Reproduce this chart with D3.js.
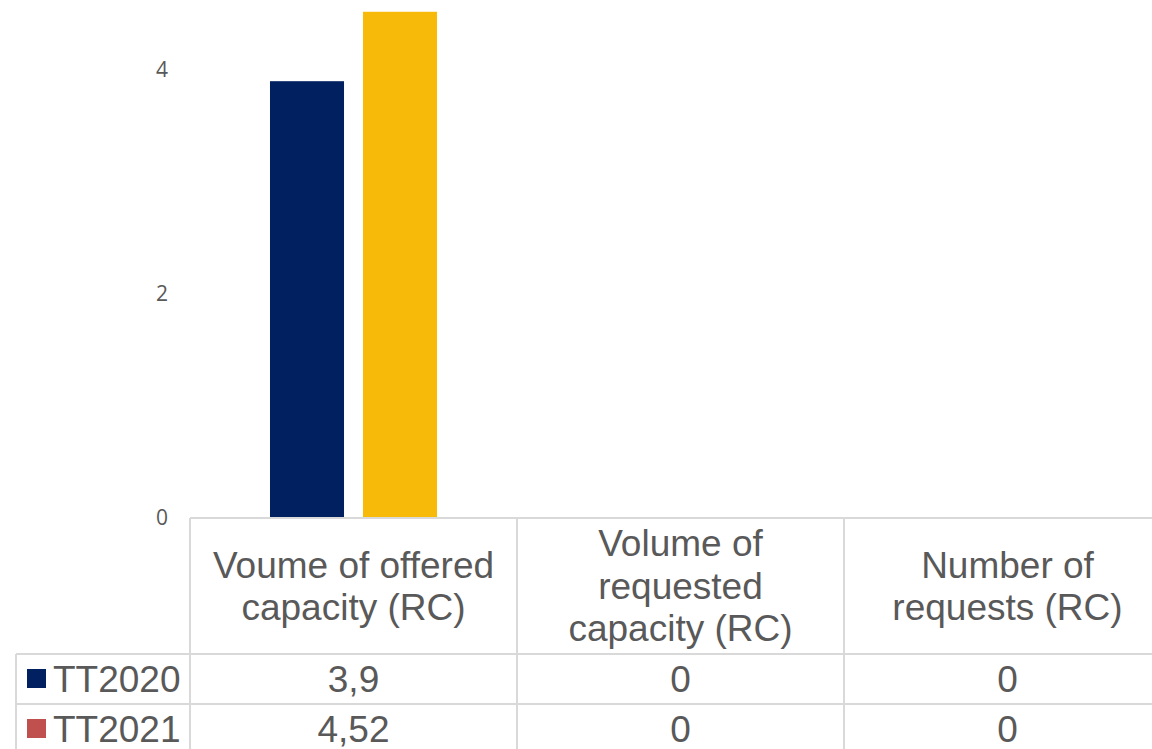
<!DOCTYPE html>
<html>
<head>
<meta charset="utf-8">
<script src="https://cdn.jsdelivr.net/npm/d3@7"></script>
<style>
  body { margin: 0; background: #fff; }
  svg { display: block; }
</style>
</head>
<body>
<div id="chart"></div>
<script>
var categories = ["Voume of offered capacity (RC)", "Volume of requested capacity (RC)", "Number of requests (RC)"];
var categoryLines = [["Voume of offered", "capacity (RC)"], ["Volume of", "requested", "capacity (RC)"], ["Number of", "requests (RC)"]];
var seriesNames = ["TT2020", "TT2021"];
var tt2020 = [3.9, 0, 0];
var tt2021 = [4.52, 0, 0];
var tt2020Labels = ["3,9", "0", "0"];
var tt2021Labels = ["4,52", "0", "0"];
var yTicks = [0, 2, 4];

var barColors = ["#002060", "#F8BA09"];
var legendColors = ["#002060", "#C0504D"];
var textColor = "#595959";
var lineColor = "#D9D9D9";

var width = 1152, height = 749;
var base = 518, headH = 136, rowH = 50;
var tableLeft = 190, legendLeft = 16;

var svg = d3.select("#chart").append("svg")
  .attr("width", width)
  .attr("height", height);

var x = d3.scaleBand()
  .domain(categories)
  .range([tableLeft, tableLeft + 327 * 3]);

var xs = d3.scaleBand()
  .domain(seriesNames)
  .range([0, x.bandwidth()])
  .paddingInner(0.204)
  .paddingOuter(0.86);

var y = d3.scaleLinear()
  .domain([0, 5])
  .range([base, base - 112 * 5]);

// y ticks, no axis line
var yAxis = d3.axisLeft(y).tickValues(yTicks).tickSize(0).tickPadding(0).tickFormat(d3.format("d"));
var ga = svg.append("g").attr("transform", "translate(168,0)").call(yAxis);
ga.select(".domain").remove();
ga.selectAll("text")
  .attr("fill", textColor)
  .style("font-family", "'Open Sans', sans-serif")
  .style("font-size", "21px");

var series = [tt2020, tt2021];

// bars
var g = svg.append("g");
series.forEach(function(vals, si) {
  g.selectAll(".bar" + si)
    .data(vals)
    .enter()
    .append("rect")
    .attr("x", (d, i) => x(categories[i]) + xs(seriesNames[si]))
    .attr("width", xs.bandwidth())
    .attr("y", d => y(d))
    .attr("height", d => base - y(d))
    .attr("fill", barColors[si]);
});

// data table grid
var grid = svg.append("g")
  .attr("stroke", lineColor)
  .attr("stroke-width", 2)
  .attr("fill", "none");

var right = tableLeft + 327 * 3;
grid.append("line").attr("x1", tableLeft).attr("x2", right).attr("y1", base).attr("y2", base);
for (var r = 0; r <= 2; r++) {
  var yy = base + headH + r * rowH;
  grid.append("line").attr("x1", legendLeft).attr("x2", right).attr("y1", yy).attr("y2", yy);
}
grid.append("line").attr("x1", legendLeft).attr("x2", legendLeft)
  .attr("y1", base + headH).attr("y2", base + headH + rowH * 2);
x.domain().forEach(function(c) {
  grid.append("line").attr("x1", x(c)).attr("x2", x(c))
    .attr("y1", base).attr("y2", base + headH + rowH * 2);
});

// header text
var tt = svg.append("g")
  .style("font-family", "'Liberation Sans', Arial, sans-serif")
  .style("font-size", "37px")
  .attr("fill", textColor)
  .attr("text-anchor", "middle");

categories.forEach(function(c, i) {
  var lines = categoryLines[i];
  var lh = 42.5;
  var cy = base + headH / 2;
  lines.forEach(function(l, li) {
    tt.append("text")
      .attr("x", x(c) + x.bandwidth() / 2)
      .attr("y", cy + (li - (lines.length - 1) / 2) * lh)
      .attr("dy", "0.35em")
      .text(l);
  });
});

// table rows with legend keys
var rowLabels = [tt2020Labels, tt2021Labels];
seriesNames.forEach(function(s, si) {
  var cy = base + headH + si * rowH + rowH / 2;
  svg.append("rect")
    .attr("x", 27).attr("y", cy - 10)
    .attr("width", 19).attr("height", 19)
    .attr("fill", legendColors[si]);
  tt.append("text")
    .attr("x", 53)
    .attr("y", cy)
    .attr("dy", "0.35em")
    .attr("text-anchor", "start")
    .text(s);
  rowLabels[si].forEach(function(v, i) {
    tt.append("text")
      .attr("x", x(categories[i]) + x.bandwidth() / 2)
      .attr("y", cy)
      .attr("dy", "0.35em")
      .text(v);
  });
});
</script>
</body>
</html>
